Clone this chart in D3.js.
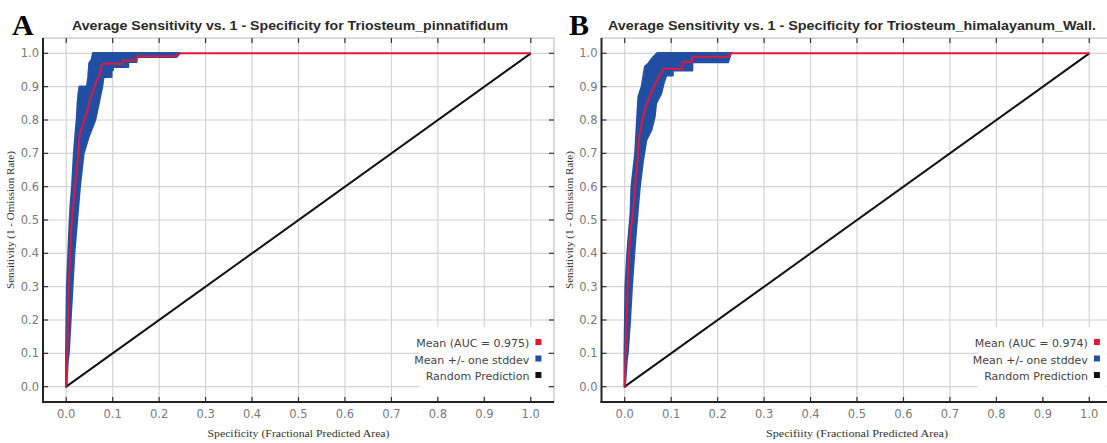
<!DOCTYPE html>
<html><head><meta charset="utf-8">
<script src="https://cdn.jsdelivr.net/npm/d3@7"></script>
<style>body{margin:0;background:#fff}svg{display:block}</style>
</head><body>
<svg id="c" width="1107" height="443"></svg>
<script>
const ticks = [0,0.1,0.2,0.3,0.4,0.5,0.6,0.7,0.8,0.9,1.0];
const panelLetters = ["A","B"];
const titles = ["Average Sensitivity vs. 1 - Specificity for Triosteum_pinnatifidum",
                "Average Sensitivity vs. 1 - Specificity for Triosteum_himalayanum_Wall."];
const xLabels = ["Specificity (Fractional Predicted Area)","Specifiity (Fractional Predicted Area)"];
const yLabel = "Sensitivity (1 - Omission Rate)";
const legendLabels = [["Mean (AUC = 0.975)","Mean +/- one stddev","Random Prediction"],
                      ["Mean (AUC = 0.974)","Mean +/- one stddev","Random Prediction"]];
const randomLine = [[0,0],[1,1]];

const meanA = [[0,0],[0.002,0.08],[0.003,0.15],[0.005,0.28],[0.008,0.38],[0.011,0.48],[0.015,0.54],[0.02,0.62],[0.022,0.64],[0.025,0.68],[0.027,0.72],[0.029,0.76],[0.035,0.78],[0.04,0.81],[0.044,0.82],[0.051,0.86],[0.056,0.88],[0.061,0.9],[0.066,0.92],[0.072,0.934],[0.076,0.964],[0.079,0.969],[0.122,0.969],[0.124,0.979],[0.151,0.979],[0.153,0.991],[0.234,0.991],[0.244,1],[1,1]];
const upperA = [[0,0],[0,0.08],[0.001,0.2],[0.002,0.3],[0.005,0.4],[0.007,0.47],[0.01,0.55],[0.013,0.6],[0.017,0.7],[0.021,0.77],[0.023,0.8],[0.025,0.85],[0.027,0.88],[0.029,0.9],[0.045,0.9],[0.048,0.93],[0.05,0.97],[0.055,0.98],[0.058,1.0],[0.244,1.0]];
const lowerA = [[0,0],[0.003,0.08],[0.005,0.1],[0.009,0.2],[0.013,0.3],[0.017,0.4],[0.023,0.5],[0.029,0.6],[0.037,0.7],[0.048,0.75],[0.062,0.8],[0.071,0.86],[0.077,0.9],[0.08,0.93],[0.097,0.93],[0.097,0.95],[0.1,0.95],[0.1,0.96],[0.133,0.96],[0.133,0.975],[0.151,0.975],[0.151,0.99],[0.237,0.99],[0.244,1]];

const meanB = [[0,0],[0.002,0.1],[0.004,0.2],[0.006,0.3],[0.009,0.4],[0.013,0.47],[0.018,0.52],[0.022,0.6],[0.027,0.67],[0.031,0.75],[0.038,0.8],[0.045,0.84],[0.052,0.864],[0.063,0.9],[0.073,0.929],[0.084,0.954],[0.124,0.954],[0.124,0.974],[0.145,0.974],[0.145,0.99],[0.222,0.99],[0.228,1],[1,1]];
const upperB = [[0,0],[0,0.1],[0.002,0.3],[0.006,0.4],[0.01,0.47],[0.013,0.52],[0.015,0.6],[0.023,0.7],[0.027,0.8],[0.03,0.87],[0.037,0.9],[0.044,0.96],[0.052,0.97],[0.059,0.984],[0.07,1],[0.228,1]];
const lowerB = [[0,0],[0.004,0.08],[0.006,0.1],[0.011,0.2],[0.015,0.3],[0.02,0.4],[0.024,0.47],[0.027,0.52],[0.032,0.6],[0.039,0.68],[0.046,0.74],[0.057,0.77],[0.064,0.81],[0.067,0.85],[0.078,0.88],[0.084,0.914],[0.089,0.934],[0.103,0.934],[0.103,0.949],[0.145,0.949],[0.145,0.974],[0.222,0.974],[0.228,1]];

const means = [meanA, meanB];
const uppers = [upperA, upperB];
const lowers = [lowerA, lowerB];
const legendColors = ["#e8162e","#1f4ea3","#111111"];

const svg = d3.select("#c");
const panels = [{left:43, right:554, letterX:12, titleX:72, titleLen:436, ylabX:14},
                {left:601.5, right:1112.5, letterX:569, titleX:608, titleLen:488, ylabX:573}];
const topY = 38, bottomY = 402;
const font = "'DejaVu Sans', Verdana, sans-serif";

panels.forEach((p, i) => {
  const x = d3.scaleLinear().domain([-0.05,1.05]).range([p.left, p.right]);
  const y = d3.scaleLinear().domain([-0.046,1.046]).range([bottomY, topY]);
  const g = svg.append("g");

  g.selectAll(".gx").data(ticks).join("line")
    .attr("x1", d => x(d)).attr("x2", d => x(d)).attr("y1", topY).attr("y2", bottomY)
    .attr("stroke", "#d4d4d4").attr("stroke-width", 1.2);
  g.selectAll(".gy").data(ticks).join("line")
    .attr("y1", d => y(d)).attr("y2", d => y(d)).attr("x1", p.left).attr("x2", p.right)
    .attr("stroke", "#d4d4d4").attr("stroke-width", 1.2);

  g.append("rect").attr("x", p.left).attr("y", topY).attr("width", p.right - p.left).attr("height", bottomY - topY)
    .attr("fill", "none").attr("stroke", "#b5b5b5").attr("stroke-width", 1);

  g.append("rect").attr("x", x(0.76)).attr("y", 327).attr("width", x(1.037) - x(0.76)).attr("height", 69)
    .attr("fill", "#fff");

  const poly = uppers[i].concat(lowers[i].slice().reverse());
  const line = d3.line().x(d => x(d[0])).y(d => y(d[1]));
  g.append("path").attr("d", line(poly) + "Z").attr("fill", "#1f4ea3").attr("stroke", "#2250a5").attr("stroke-width", 2.5).attr("stroke-linejoin", "round");

  g.append("path").attr("d", line(randomLine)).attr("stroke", "#111").attr("stroke-width", 2).attr("fill", "none");
  g.append("path").attr("d", line(means[i])).attr("stroke", "#e3173c").attr("stroke-width", 2).attr("fill", "none");

  const tl = 5;
  ticks.forEach(t => {
    g.append("line").attr("x1", x(t)).attr("x2", x(t)).attr("y1", bottomY).attr("y2", bottomY - tl).attr("stroke", "#333").attr("stroke-width", 1.2);
    g.append("line").attr("x1", x(t)).attr("x2", x(t)).attr("y1", topY).attr("y2", topY + tl).attr("stroke", "#333").attr("stroke-width", 1.2);
    g.append("line").attr("y1", y(t)).attr("y2", y(t)).attr("x1", p.left).attr("x2", p.left + tl).attr("stroke", "#333").attr("stroke-width", 1.2);
    g.append("line").attr("y1", y(t)).attr("y2", y(t)).attr("x1", p.right).attr("x2", p.right - tl).attr("stroke", "#333").attr("stroke-width", 1.2);
  });

  g.append("line").attr("x1", p.left).attr("x2", p.left).attr("y1", topY).attr("y2", bottomY + 1).attr("stroke", "#222").attr("stroke-width", 2);
  g.append("line").attr("x1", p.left - 1).attr("x2", p.right).attr("y1", bottomY).attr("y2", bottomY).attr("stroke", "#222").attr("stroke-width", 2);

  g.selectAll(".xl").data(ticks).join("text")
    .attr("x", d => x(d)).attr("y", 418).attr("text-anchor", "middle")
    .attr("font-family", font).attr("font-size", 11.5).attr("fill", "#7a7a7a")
    .text(d => d.toFixed(1));
  g.selectAll(".yl").data(ticks).join("text")
    .attr("x", p.left - 4).attr("y", d => y(d) + 4).attr("text-anchor", "end")
    .attr("font-family", font).attr("font-size", 11.5).attr("fill", "#7a7a7a")
    .text(d => d.toFixed(1));

  g.append("text").attr("x", p.titleX).attr("y", 30).attr("font-family", "'Liberation Sans', Arial, sans-serif").attr("font-weight", "bold")
    .attr("font-size", 12.5).attr("fill", "#2a2a2a").attr("textLength", p.titleLen).attr("lengthAdjust", "spacingAndGlyphs")
    .text(titles[i]);
  g.append("text").attr("x", p.letterX).attr("y", 35).attr("font-family", "'Liberation Serif', 'Times New Roman', serif")
    .attr("font-weight", "bold").attr("font-size", 30).attr("fill", "#000").text(panelLetters[i]);

  g.append("text").attr("x", x(0.5)).attr("y", 437).attr("text-anchor", "middle")
    .attr("font-family", "'Liberation Serif', serif").attr("font-size", 10.5).attr("fill", "#333")
    .attr("textLength", 182).attr("lengthAdjust", "spacingAndGlyphs").text(xLabels[i]);
  g.append("text").attr("transform", `translate(${p.ylabX},${y(0.5)}) rotate(-90)`).attr("text-anchor", "middle")
    .attr("font-family", "'Liberation Serif', serif").attr("font-size", 10.5).attr("fill", "#333")
    .attr("textLength", 138).attr("lengthAdjust", "spacingAndGlyphs").text(yLabel);

  legendLabels[i].forEach((lab, k) => {
    const ly = 343 + k * 16.5;
    g.append("text").attr("x", x(0.997)).attr("y", ly + 4).attr("text-anchor", "end")
      .attr("font-family", font).attr("font-size", 11).attr("fill", "#444").text(lab);
    g.append("rect").attr("x", x(1.01)).attr("y", ly - 4).attr("width", 6).attr("height", 6).attr("fill", legendColors[k]);
  });
});
</script>
</body></html>
